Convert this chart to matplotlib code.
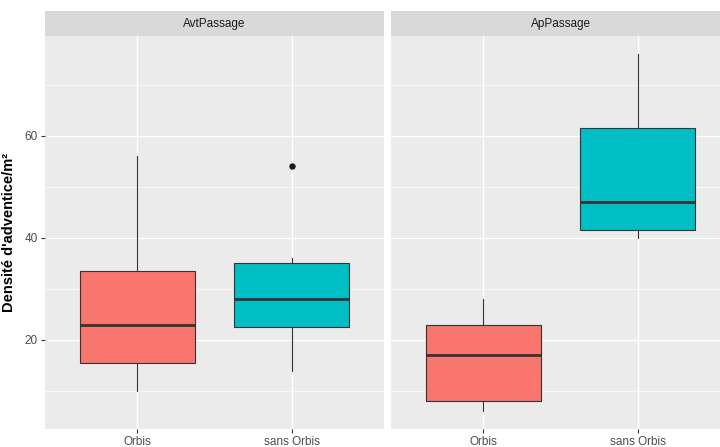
import matplotlib
matplotlib.use("Agg")
import matplotlib.pyplot as plt
from matplotlib.ticker import MultipleLocator

plt.rcParams["font.family"] = ["Liberation Sans", "DejaVu Sans"]

PANELS = ["AvtPassage", "ApPassage"]
GROUPS = ["Orbis", "sans Orbis"]
COLORS = ["#F8766D", "#00BFC4"]
# box stats: [panel][group]
WHISLO = [[10, 14], [6, 40]]
Q1 = [[15.5, 22.5], [8, 41.5]]
MED = [[23, 28], [17, 47]]
Q3 = [[33.5, 35], [23, 61.5]]
WHISHI = [[56, 36], [28, 76]]
FLIERS = [[[], [54]], [[], []]]
YTICKS = [20, 40, 60]

W, H = 720, 447
fig = plt.figure(figsize=(W / 100, H / 100), dpi=100)

# pixel layout (ggplot facet look, right panel cut off by the image edge)
px_left = [45, 391]
px_w = 339
y_bot, y_top, strip_top = 429.3, 36, 11

for p, name in enumerate(PANELS):
    ax = fig.add_axes([px_left[p] / W, 1 - y_bot / H, px_w / W, (y_bot - y_top) / H])
    ax.set_facecolor("#EBEBEB")
    for s in ax.spines.values():
        s.set_visible(False)
    stats = []
    for g in range(len(GROUPS)):
        stats.append(dict(whislo=WHISLO[p][g], q1=Q1[p][g], med=MED[p][g],
                          q3=Q3[p][g], whishi=WHISHI[p][g], fliers=FLIERS[p][g]))
    bp = ax.bxp(stats, positions=[1, 2], widths=0.75, patch_artist=True, showcaps=False,
                boxprops=dict(edgecolor="#333333", linewidth=0.8),
                whiskerprops=dict(color="#333333", linewidth=0.8),
                medianprops=dict(color="#333333", linewidth=2.0),
                flierprops=dict(marker="o", markerfacecolor="#1A1A1A", markeredgecolor="#1A1A1A",
                                markersize=3.6))
    for patch, c in zip(bp["boxes"], COLORS):
        patch.set_facecolor(c)
    for el in bp["whiskers"] + bp["boxes"] + bp["medians"]:
        el.set_zorder(3)
    ax.set_xlim(0.4, 2.6)
    ax.set_ylim(2.5, 79.5)
    ax.set_xticks([1, 2])
    ax.set_xticklabels(GROUPS)
    ax.set_yticks(YTICKS)
    ax.yaxis.set_minor_locator(MultipleLocator(10))
    ax.xaxis.set_minor_locator(plt.NullLocator())
    ax.grid(True, which="major", color="white", lw=1.0, zorder=0)
    ax.grid(True, which="minor", axis="y", color="white", lw=0.5, zorder=0)
    ax.set_axisbelow(True)
    ax.tick_params(which="major", length=3, width=0.8, color="#333333", labelcolor="#4D4D4D",
                   labelsize=8.5, pad=2)
    ax.tick_params(which="minor", length=0)
    if p == 0:
        ax.set_ylabel("Densité d'adventice/m²", fontsize=10.5, fontweight="bold", labelpad=6)
    else:
        ax.tick_params(axis="y", which="both", left=False, labelleft=False)

    sx = fig.add_axes([px_left[p] / W, 1 - y_top / H, px_w / W, (y_top - strip_top) / H])
    sx.set_facecolor("#D9D9D9")
    sx.set_xticks([]); sx.set_yticks([])
    for s in sx.spines.values():
        s.set_visible(False)
    sx.text(0.5, 0.5, name, ha="center", va="center", fontsize=8.5, color="#1A1A1A",
            transform=sx.transAxes)

fig.savefig("out.png", dpi=100)
